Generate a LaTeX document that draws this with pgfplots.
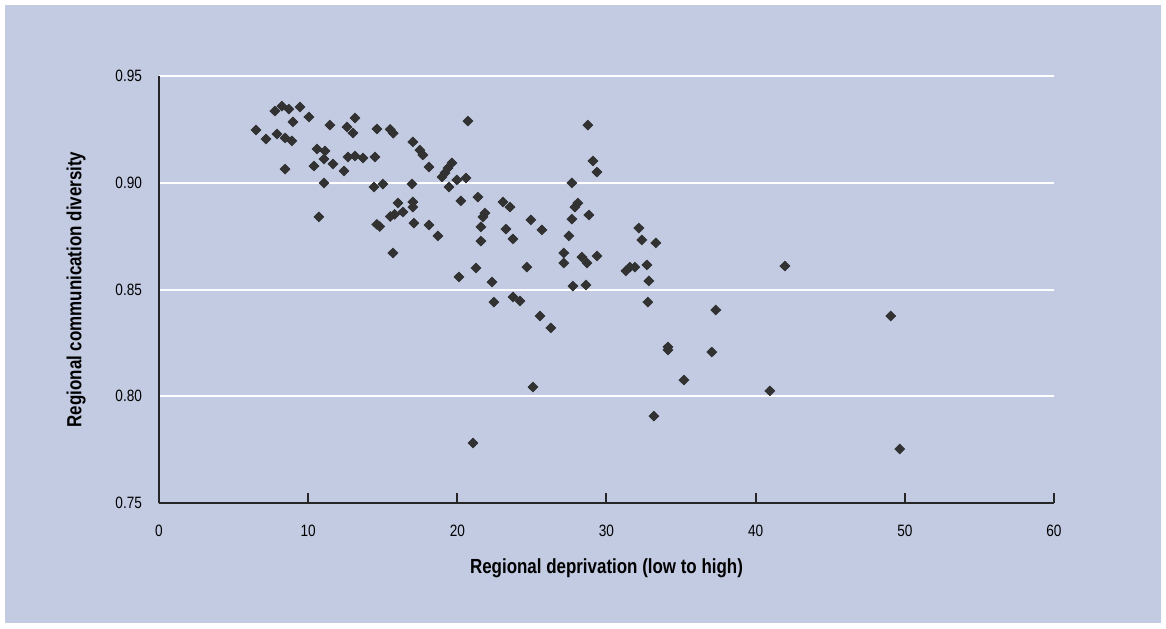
\documentclass[border=0pt]{standalone}
\usepackage{fontspec}
\setmainfont{Liberation Sans}[FakeStretch=0.83]
\usepackage{pgfplots}
\usepackage{pgfplotstable}
\pgfplotsset{compat=1.18}
\definecolor{bgblue}{RGB}{195,203,227}
\definecolor{mk}{RGB}{50,50,50}
\pgfplotstableread{
x y
6.50 0.9247
7.17 0.9205
7.77 0.9336
8.24 0.9359
8.71 0.9345
9.45 0.9355
8.98 0.9285
10.05 0.9308
7.91 0.9228
8.45 0.9210
8.91 0.9196
8.45 0.9064
10.39 0.9078
10.59 0.9158
11.13 0.9149
11.06 0.9111
11.66 0.9088
12.40 0.9055
11.06 0.8999
10.72 0.8840
11.46 0.9270
12.60 0.9261
13.00 0.9233
13.14 0.9303
12.67 0.9121
13.14 0.9125
13.67 0.9116
14.48 0.9121
14.61 0.9252
14.41 0.8980
15.01 0.8994
14.60 0.8805
14.80 0.8795
15.50 0.9250
15.70 0.9232
20.71 0.9289
17.02 0.9191
17.49 0.9153
17.69 0.9130
18.10 0.9074
19.64 0.9093
19.37 0.9069
19.17 0.9046
18.97 0.9027
19.97 0.9013
20.58 0.9022
19.44 0.8980
16.96 0.8994
20.24 0.8915
21.38 0.8933
16.02 0.8905
17.02 0.8910
17.02 0.8886
15.50 0.8842
15.80 0.8852
16.35 0.8863
21.85 0.8858
21.72 0.8840
23.06 0.8910
23.53 0.8886
17.09 0.8811
18.10 0.8802
18.70 0.8751
21.58 0.8793
21.58 0.8727
23.26 0.8783
23.73 0.8737
24.93 0.8826
25.67 0.8779
15.68 0.8671
21.25 0.8601
24.66 0.8605
20.11 0.8559
22.32 0.8535
22.45 0.8441
23.73 0.8465
24.20 0.8446
25.54 0.8376
26.27 0.8320
25.07 0.8043
21.05 0.7781
29.36 0.9050
29.09 0.9102
28.75 0.9270
27.68 0.8999
28.08 0.8905
27.88 0.8886
28.82 0.8849
27.68 0.8830
27.48 0.8751
27.14 0.8671
27.14 0.8624
28.35 0.8652
28.69 0.8624
29.36 0.8657
27.75 0.8516
28.62 0.8521
32.17 0.8788
32.37 0.8732
33.31 0.8718
31.30 0.8587
31.57 0.8605
31.90 0.8605
32.71 0.8615
32.84 0.8540
32.77 0.8441
37.33 0.8404
34.12 0.8231
34.12 0.8217
37.06 0.8207
35.19 0.8076
40.95 0.8025
33.18 0.7907
41.96 0.8610
49.06 0.8376
49.66 0.7753
}\datatable
\begin{document}
\begin{tikzpicture}
\fill[white] (0,0) rectangle (583pt,314pt);
\fill[bgblue] (2.5pt,2.5pt) rectangle (580.5pt,311.5pt);
\begin{axis}[
  at={(79.5pt,62.5pt)}, anchor=south west,
  scale only axis, width=447.5pt, height=213.5pt,
  xmin=0, xmax=60, ymin=0.75, ymax=0.95,
  axis x line*=bottom, axis y line*=left,
  axis line style={black!85, line width=1pt},
  xtick={0,10,...,60},
  ytick={0.75,0.80,0.85,0.90,0.95},
  tick align=inside,
  major tick length=5pt,
  x tick style={black!85, line width=1pt},
  y tick style={draw=none},
  ymajorgrids,
  grid style={white, line width=1pt},
  font=\fontsize{8.2}{10}\selectfont,
  /pgf/number format/assume math mode=true,
  yticklabel style={xshift=-5pt, /pgf/number format/.cd, fixed, fixed zerofill, precision=2},
  xticklabel style={yshift=-7.5pt},
  xlabel={\textbf{Regional deprivation (low to high)}},
  ylabel={\textbf{Regional communication diversity}},
  xlabel style={at={(axis description cs:0.5,-0.154)}, anchor=center, font=\fontsize{10.2}{12}\selectfont},
  ylabel style={at={(axis description cs:-0.0927,0.5)}, anchor=center, font=\fontsize{10.2}{12}\selectfont},
  clip=false,
]
\addplot[only marks, mark=diamond*, mark size=2.4pt,
  mark options={fill=mk, draw=mk, xscale=1.35}] table[x=x,y=y] {\datatable};
\end{axis}
\end{tikzpicture}
\end{document}
